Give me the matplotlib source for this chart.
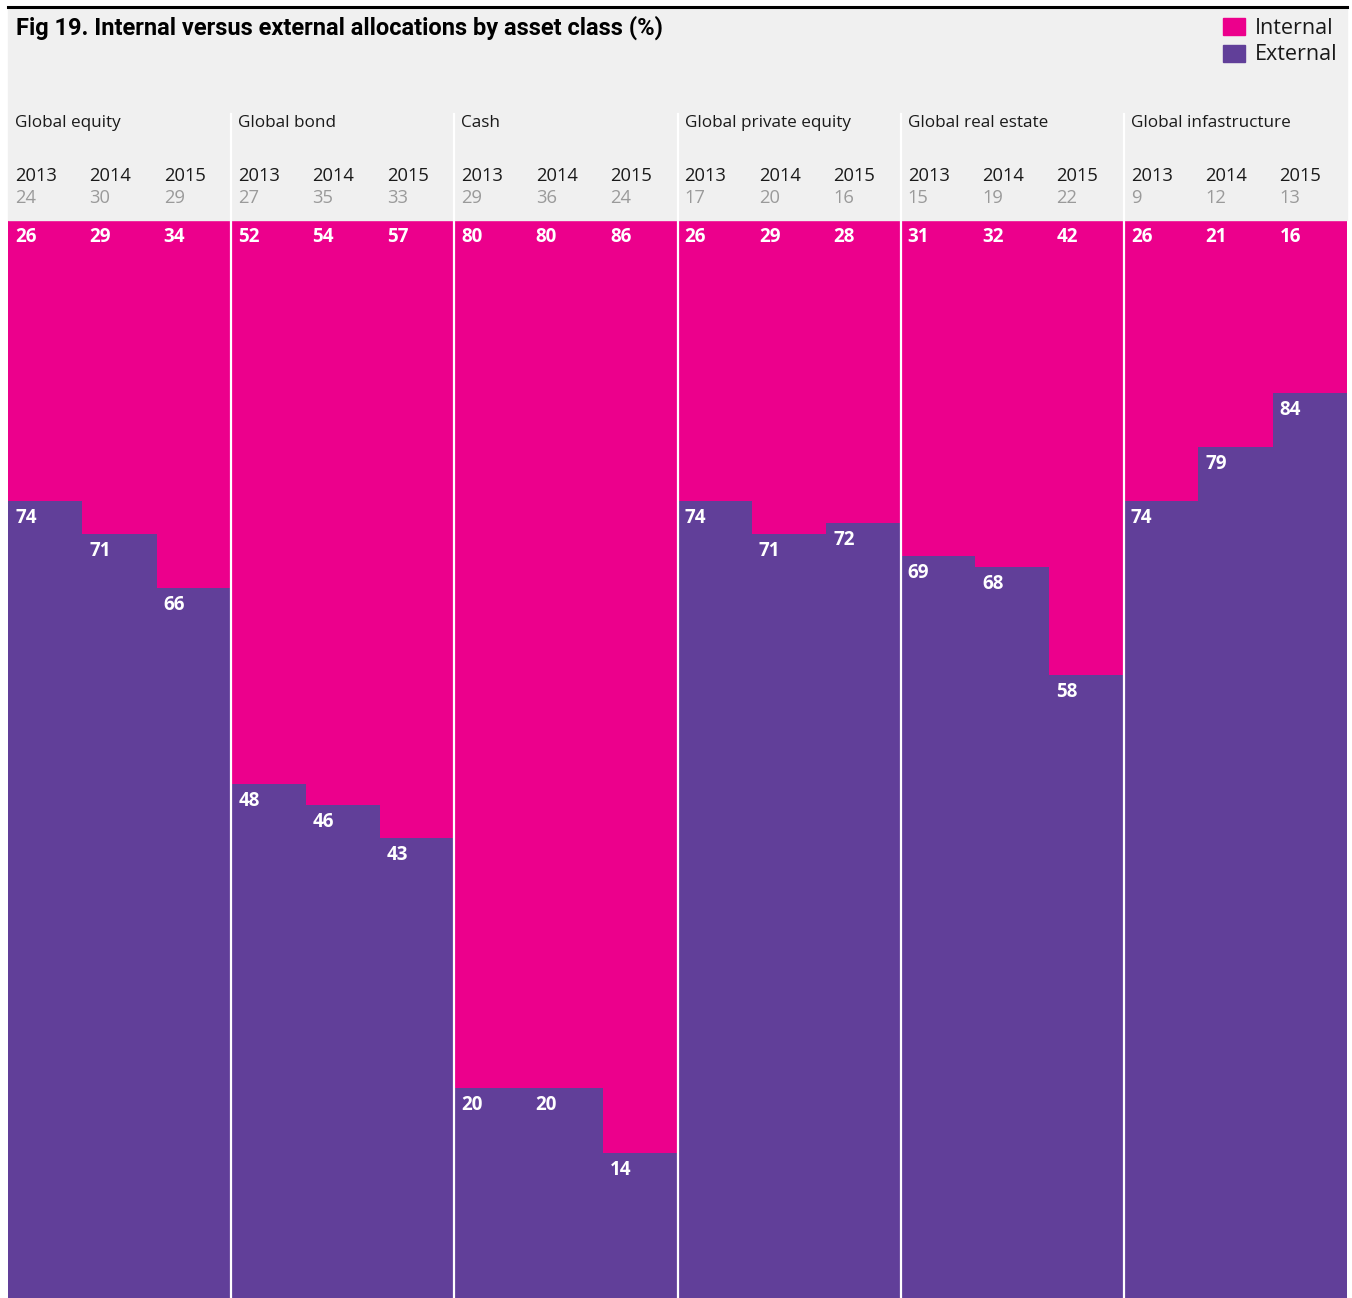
import numpy as np
import matplotlib.pyplot as plt
from matplotlib.patches import Rectangle

plt.rcParams['font.family'] = ['Open Sans', 'DejaVu Sans']

groups = ['Global equity', 'Global bond', 'Cash', 'Global private equity',
          'Global real estate', 'Global infastructure']
years = ['2013', '2014', '2015']
counts = [[24, 30, 29], [27, 35, 33], [29, 36, 24],
          [17, 20, 16], [15, 19, 22], [9, 12, 13]]
internal = [[26, 29, 34], [52, 54, 57], [80, 80, 86],
            [26, 29, 28], [31, 32, 42], [26, 21, 16]]
external = [[74, 71, 66], [48, 46, 43], [20, 20, 14],
            [74, 71, 72], [69, 68, 58], [74, 79, 84]]

pink = '#EC008C'
purple = '#613F99'
grey_bg = '#F0F0F0'

W, H = 1352, 1298
fig = plt.figure(figsize=(W / 100, H / 100), dpi=100)

def fx(px):
    return px / W

def fy(py):
    return 1 - py / H

# header background and top rule
fig.patches.append(Rectangle((fx(8), fy(220)), fx(1339), 212 / H,
                             transform=fig.transFigure, color=grey_bg, zorder=0))
fig.lines.append(plt.Line2D([fx(8), fx(1347)], [fy(7), fy(7)],
                            transform=fig.transFigure, color='black', lw=2.2))

# bars run a little past the bottom edge of the picture
ax = fig.add_axes([fx(8), fy(1305), fx(1339), 1086 / H])
ncol = len(groups) * 3
x = np.arange(ncol)
ext = np.array(external).ravel()
intl = np.array(internal).ravel()
ax.bar(x, ext, width=1.0, align='edge', color=purple, lw=0)
ax.bar(x, intl, width=1.0, bottom=ext, align='edge', color=pink, lw=0)
ax.set_xlim(0, ncol)
ax.set_ylim(0, 100)
ax.axis('off')

for g in range(1, len(groups)):
    ax.axvline(g * 3, color='white', lw=1.6)

col_w = 1339 / ncol
for g, name in enumerate(groups):
    gx = 8 + g * 3 * col_w
    fig.text(fx(gx + 7), fy(123), name, fontsize=12.3, color='#1a1a1a',
             va='center', ha='left')
    if g > 0:
        fig.lines.append(plt.Line2D([fx(gx), fx(gx)], [fy(114), fy(220)],
                                    transform=fig.transFigure, color='white', lw=1.6))
    for j in range(3):
        cx = gx + j * col_w + 7
        fig.text(fx(cx), fy(176), years[j], fontsize=13.2, color='#1a1a1a',
                 va='center', ha='left')
        fig.text(fx(cx), fy(198), str(counts[g][j]), fontsize=13.2, color='#9a9a9a',
                 va='center', ha='left')
        i = g * 3 + j
        ax.annotate(str(internal[g][j]), (i, 100), xytext=(7, -18),
                    textcoords='offset pixels', color='white', fontsize=13.5,
                    fontweight='bold', ha='left', va='center')
        ax.annotate(str(external[g][j]), (i, external[g][j]), xytext=(7, -17),
                    textcoords='offset pixels', color='white', fontsize=13.5,
                    fontweight='bold', ha='left', va='center')

fig.text(fx(16), fy(28), 'Fig 19. Internal versus external allocations by asset class (%)',
         fontsize=17, fontweight='bold', color='black', va='center', ha='left',
         family=['Roboto', 'DejaVu Sans'])

# legend
for k, (lab, c) in enumerate([('Internal', pink), ('External', purple)]):
    y0 = 18 + k * 27
    fig.patches.append(Rectangle((fx(1223), fy(y0 + 17)), 22 / W, 17 / H,
                                 transform=fig.transFigure, color=c))
    fig.text(fx(1255), fy(y0 + 10), lab, fontsize=15.5, color='#1a1a1a',
             va='center', ha='left')

fig.savefig('out.png', dpi=100)
